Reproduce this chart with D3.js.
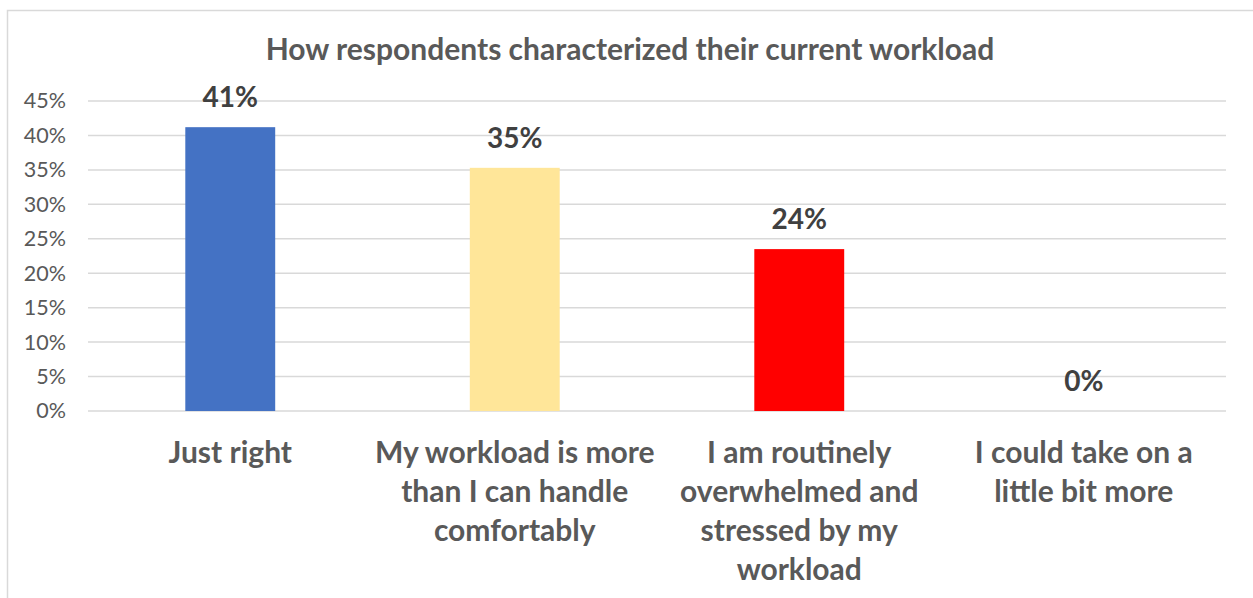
<!DOCTYPE html>
<html>
<head>
<meta charset="utf-8">
<script src="https://cdn.jsdelivr.net/npm/d3@7"></script>
<style>
  html, body { margin: 0; padding: 0; background: #fff; }
  svg { display: block; font-family: Lato, "Open Sans", sans-serif; }
</style>
</head>
<body>
<svg id="chart" width="1253" height="598"></svg>
<script>
// Survey responses: share of respondents per workload description (percent)
const categories = [
  ["Just right"],
  ["My workload is more", "than I can handle", "comfortably"],
  ["I am routinely", "overwhelmed and", "stressed by my", "workload"],
  ["I could take on a", "little bit more"]
];
const values = [41.2, 35.3, 23.5, 0];
const barColors = ["#4472C4", "#FFE699", "#FF0000", "#A5A5A5"];
const yTicks = [0, 5, 10, 15, 20, 25, 30, 35, 40, 45];
const title = "How respondents characterized their current workload";

const W = 1253, H = 598;
const svg = d3.select("#chart");

// outer chart frame
svg.append("rect")
  .attr("x", 7.5).attr("y", 10.5)
  .attr("width", W + 20).attr("height", H + 20)
  .attr("fill", "#fff").attr("stroke", "#d9d9d9").attr("stroke-width", 1.5);

const plot = { left: 88, right: 1226, top: 101, bottom: 411 };

const x = d3.scaleBand()
  .domain(d3.range(categories.length))
  .range([plot.left, plot.right])
  .paddingInner(0.684)
  .paddingOuter(0.342);

const y = d3.scaleLinear()
  .domain([0, 45])
  .range([plot.bottom, plot.top]);

// horizontal gridlines
svg.append("g")
  .selectAll("line")
  .data(yTicks)
  .join("line")
  .attr("x1", plot.left).attr("x2", plot.right)
  .attr("y1", d => y(d)).attr("y2", d => y(d))
  .attr("stroke", "#d9d9d9").attr("stroke-width", 1.5);

// y-axis tick labels
const yAxis = d3.axisLeft(y).tickValues(yTicks).tickSize(0).tickPadding(0)
  .tickFormat(d => d + "%");
const yg = svg.append("g").attr("transform", `translate(${plot.left - 22},0)`).call(yAxis);
yg.select(".domain").remove();
yg.selectAll("text")
  .attr("fill", "#595959")
  .style("font-size", "21.5px")
  .style("font-family", "Lato, sans-serif");

// bars
svg.append("g")
  .selectAll("rect")
  .data(values)
  .join("rect")
  .attr("x", (d, i) => x(i))
  .attr("width", x.bandwidth())
  .attr("y", d => y(d))
  .attr("height", d => y(0) - y(d))
  .attr("fill", (d, i) => barColors[i]);

// value labels above bars
svg.append("g")
  .selectAll("text")
  .data(values)
  .join("text")
  .attr("x", (d, i) => x(i) + x.bandwidth() / 2)
  .attr("y", d => y(d) - 20)
  .attr("text-anchor", "middle")
  .attr("fill", "#404040")
  .style("font-size", "28px")
  .style("font-weight", "bold")
  .text(d => Math.round(d) + "%");

// category labels, wrapped onto several lines
const cat = svg.append("g")
  .selectAll("text")
  .data(categories)
  .join("text")
  .attr("x", (d, i) => x(i) + x.bandwidth() / 2)
  .attr("y", 463)
  .attr("text-anchor", "middle")
  .attr("fill", "#595959")
  .style("font-size", "30px")
  .style("font-weight", "bold");
cat.each(function(lines, i) {
  d3.select(this).selectAll("tspan")
    .data(lines)
    .join("tspan")
    .attr("x", x(i) + x.bandwidth() / 2)
    .attr("dy", (d, j) => j === 0 ? 0 : 39)
    .text(d => d);
});

// chart title
svg.append("text")
  .attr("x", 630).attr("y", 60)
  .attr("text-anchor", "middle")
  .attr("fill", "#595959")
  .style("font-size", "30px")
  .style("font-weight", "bold")
  .text(title);
</script>
</body>
</html>
